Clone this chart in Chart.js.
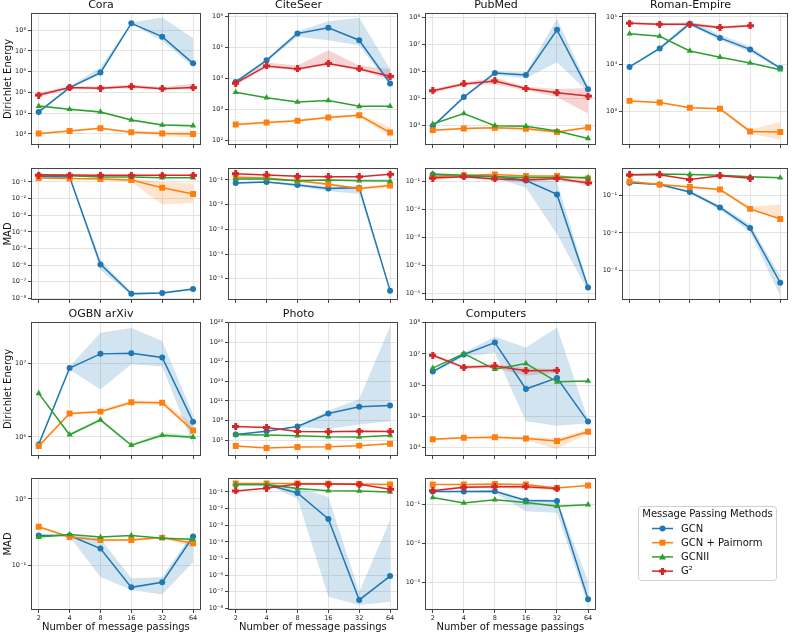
<!DOCTYPE html>
<html lang="en">
  <head>
    <meta charset="UTF-8" />
    <meta name="viewport" content="width=device-width, initial-scale=1.0" />
    <script src="https://cdn.jsdelivr.net/npm/chart.js@4.4.0/dist/chart.umd.min.js"></script>
    <title>Dirichlet Energy and MAD</title>
    <style>
      body {
        margin: 0;
        padding: 0;
        background: #fff;
      }

      .stage {
        position: relative;
        width: 793px;
        height: 632px;
        overflow: hidden;
      }

      .stage canvas {
        position: absolute;
      }
    </style>
  </head>
  <body>
    <div class="stage" id="stage"></div>
    <script>
      const steps = ['2', '4', '8', '16', '32', '64']
      const methods = ['GCN', 'GCN + Pairnorm', 'GCNII', 'G²']
      const colors = ['#1f77b4', '#ff7f0e', '#2ca02c', '#d62728']
      const shades = ['rgba(31,119,180,0.2)', 'rgba(255,127,14,0.2)', 'rgba(44,160,44,0.2)', 'rgba(214,39,40,0.2)']

      // each panel: [GCN, GCN + Pairnorm, GCNII, G²], lo/hi = shaded band (null = none)
      const coraDE = [
        [1.15e4, 1.7e5, 9e5, 2.1e8, 4.8e7, 2.5e6],
        [1.05e3, 1.4e3, 1.9e3, 1.2e3, 1.05e3, 1.0e3],
        [2.2e4, 1.55e4, 1.15e4, 4.7e3, 2.7e3, 2.5e3],
        [7.5e4, 1.7e5, 1.6e5, 1.9e5, 1.5e5, 1.7e5],
      ]
      const coraDELo = [
        [1.0e4, 1.5e5, 7e5, 2.0e8, 3e7, 1.7e6],
        [950, 1.3e3, 1.7e3, 1.1e3, 800, 700],
        [2.0e4, 1.4e4, 1.05e4, 4.2e3, 2.4e3, 2.3e3],
        [6e4, 1.4e5, 1.4e5, 1.6e5, 1.3e5, 1.4e5],
      ]
      const coraDEHi = [
        [1.3e4, 2.0e5, 1.6e6, 2.3e8, 4e8, 4e7],
        [1.1e3, 1.5e3, 2.1e3, 1.4e3, 1.3e3, 1.3e3],
        [2.4e4, 1.7e4, 1.3e4, 5.2e3, 3.0e3, 2.8e3],
        [1e5, 2e5, 1.9e5, 2.4e5, 1.8e5, 2.6e5],
      ]
      const coraDETicks = [3, 4, 5, 6, 7, 8]

      const citeseerDE = [
        [7.6e3, 3.8e4, 2.8e5, 4.3e5, 1.7e5, 6.8e3],
        [320, 370, 420, 540, 630, 175],
        [3.5e3, 2.35e3, 1.7e3, 1.9e3, 1.23e3, 1.25e3],
        [6.9e3, 2.5e4, 2.0e4, 3.0e4, 2.0e4, 1.15e4],
      ]
      const citeseerDELo = [
        [7e3, 3.4e4, 2.2e5, 1.7e5, 1.15e5, 6e3],
        [290, 340, 380, 490, 570, 130],
        null,
        [6e3, 2.2e4, 1.8e4, 2.6e4, 1.8e4, 9e3],
      ]
      const citeseerDEHi = [
        [8.5e3, 4.3e4, 3.3e5, 7e5, 9e5, 2e4],
        [350, 400, 460, 600, 700, 260],
        null,
        [8e3, 3.2e4, 2.6e4, 8e4, 2.6e4, 2.0e4],
      ]
      const citeseerDETicks = [2, 3, 4, 5, 6]

      const pubmedDE = [
        [9e3, 1.1e5, 8.7e5, 7.3e5, 3.5e7, 2.15e5],
        [6.5e3, 7.5e3, 8e3, 7.3e3, 5.5e3, 8.2e3],
        [1.1e4, 2.7e4, 9.5e3, 9.1e3, 6e3, 3.2e3],
        [1.9e5, 3.4e5, 4.4e5, 2.3e5, 1.6e5, 1.2e5],
      ]
      const pubmedDELo = [
        [8.5e3, 1.0e5, 7.5e5, 5.5e5, 2.2e6, 1.7e5],
        [6e3, 6.8e3, 7.2e3, 6.6e3, 5e3, 7.6e3],
        null,
        [1.6e5, 2.9e5, 3.3e5, 2.0e5, 1.1e5, 2.7e4],
      ]
      const pubmedDEHi = [
        [9.5e3, 1.2e5, 1.0e6, 9e5, 9e7, 2.8e5],
        [7e3, 8.2e3, 8.8e3, 8e3, 6e3, 8.8e3],
        null,
        [2.2e5, 3.9e5, 5.8e5, 2.7e5, 2.2e5, 2.4e5],
      ]
      const pubmedDETicks = [4, 5, 6, 7, 8]

      const romanDE = [
        [8.7e3, 2.15e4, 7.2e4, 3.6e4, 2.05e4, 8.2e3],
        [1.65e3, 1.53e3, 1.18e3, 1.12e3, 370, 360],
        [4.4e4, 3.9e4, 1.9e4, 1.4e4, 1.05e4, 7.6e3],
        [7.4e4, 7.0e4, 7.0e4, 6.0e4, 6.5e4, null],
      ]
      const romanDELo = [
        [8.3e3, 2.0e4, 6.5e4, 3.2e4, 1.8e4, 7.8e3],
        [1.6e3, 1.48e3, 1.14e3, 1.08e3, 330, 245],
        null,
        [7e4, 6.6e4, 6.4e4, 5.6e4, 6.1e4, null],
      ]
      const romanDEHi = [
        [9.1e3, 2.3e4, 8.5e4, 4.2e4, 2.4e4, 8.6e3],
        [1.7e3, 1.58e3, 1.22e3, 1.16e3, 400, 590],
        null,
        [7.8e4, 7.4e4, 7.6e4, 6.4e4, 6.9e4, null],
      ]
      const romanDETicks = [3, 4, 5]

      const coraMAD = [
        [0.22, 0.2, 1.1e-6, 1.9e-8, 2.1e-8, 3.6e-8],
        [0.175, 0.16, 0.15, 0.13, 0.045, 0.019],
        [0.28, 0.24, 0.2, 0.2, 0.18, 0.18],
        [0.26, 0.26, 0.25, 0.25, 0.25, 0.25],
      ]
      const coraMADLo = [
        [0.18, 0.17, 5e-7, 1.6e-8, 1.8e-8, 3.0e-8],
        [0.16, 0.15, 0.13, 0.1, 4.4e-3, 5.5e-3],
        null,
        null,
      ]
      const coraMADHi = [
        [0.26, 0.23, 2e-6, 2.3e-8, 2.4e-8, 4.2e-8],
        [0.19, 0.18, 0.17, 0.16, 0.1, 0.08],
        null,
        null,
      ]
      const coraMADTicks = [-8, -7, -6, -5, -4, -3, -2, -1]

      const citeseerMAD = [
        [0.076, 0.083, 0.063, 0.045, 0.049, 3.3e-6],
        [0.13, 0.12, 0.094, 0.067, 0.045, 0.06],
        [0.11, 0.11, 0.094, 0.1, 0.094, 0.09],
        [0.18, 0.16, 0.14, 0.135, 0.135, 0.17],
      ]
      const citeseerMADLo = [
        [0.07, 0.077, 0.055, 0.035, 0.028, 2.8e-6],
        [0.12, 0.11, 0.085, 0.06, 0.04, 0.05],
        null,
        null,
      ]
      const citeseerMADHi = [
        [0.082, 0.09, 0.07, 0.055, 0.06, 3.8e-6],
        [0.14, 0.13, 0.1, 0.075, 0.05, 0.07],
        null,
        null,
      ]
      const citeseerMADTicks = [-5, -4, -3, -2, -1]

      const pubmedMAD = [
        [0.18, 0.16, 0.155, 0.11, 0.035, 1.6e-5],
        [0.15, 0.17, 0.18, 0.16, 0.16, 0.13],
        [0.19, 0.17, 0.15, 0.14, 0.14, 0.14],
        [0.135, 0.15, 0.125, 0.115, 0.13, 0.09],
      ]
      const pubmedMADLo = [
        [0.17, 0.15, 0.14, 0.06, 1.3e-3, 1.2e-5],
        null,
        null,
        [0.12, 0.14, 0.11, 0.1, 0.115, 0.075],
      ]
      const pubmedMADHi = [
        [0.19, 0.17, 0.17, 0.14, 0.1, 2.2e-5],
        null,
        null,
        [0.15, 0.16, 0.14, 0.13, 0.145, 0.11],
      ]
      const pubmedMADTicks = [-5, -4, -3, -2, -1]

      const romanMAD = [
        [0.22, 0.197, 0.125, 0.048, 0.0135, 4.6e-4],
        [0.24, 0.197, 0.17, 0.145, 0.044, 0.0235],
        [0.36, 0.38, 0.37, 0.35, 0.32, 0.3],
        [0.36, 0.36, 0.27, 0.34, 0.29, null],
      ]
      const romanMADLo = [
        [0.21, 0.19, 0.115, 0.042, 0.0105, 2e-4],
        [0.23, 0.19, 0.16, 0.135, 0.038, 0.024],
        null,
        null,
      ]
      const romanMADHi = [
        [0.23, 0.205, 0.135, 0.055, 0.017, 7e-4],
        [0.25, 0.205, 0.18, 0.155, 0.05, 0.058],
        null,
        null,
      ]
      const romanMADTicks = [-3, -2, -1]

      const arxivDE = [
        [7.9e5, 8.6e6, 1.34e7, 1.37e7, 1.2e7, 1.6e6],
        [7.5e5, 2.07e6, 2.2e6, 2.95e6, 2.9e6, 1.22e6],
        [3.9e6, 1.07e6, 1.7e6, 7.7e5, 1.05e6, 9.9e5],
        null,
      ]
      const arxivDELo = [
        [7.6e5, 8.2e6, 4.4e6, 9.7e6, 9e6, 7.9e5],
        [7.2e5, 2.0e6, 2.1e6, 2.8e6, 2.75e6, 1.1e6],
        [3.8e6, 1.03e6, 1.6e6, 7.4e5, 1.0e6, 9.4e5],
        null,
      ]
      const arxivDEHi = [
        [8.2e5, 9e6, 2.6e7, 3e7, 2e7, 2e6],
        [7.8e5, 2.15e6, 2.3e6, 3.1e6, 3.1e6, 1.5e6],
        [4e6, 1.1e6, 1.8e6, 8e5, 1.15e6, 1.05e6],
        null,
      ]
      const arxivDETicks = [6, 7]

      const photoDE = [
        [7e5, 2.3e6, 1.2e7, 1.2e9, 1.3e10, 2e10],
        [1.2e4, 6e3, 8.5e3, 9.5e3, 1.4e4, 2.8e4],
        [6.5e5, 5.8e5, 4.6e5, 3.2e5, 2.9e5, 5.1e5],
        [1.2e7, 8.5e6, 2.1e6, 1.9e6, 2.3e6, 2.1e6],
      ]
      const photoDELo = [
        [6.5e5, 2e6, 1e7, 5e6, 2.5e7, 8e7],
        null,
        null,
        null,
      ]
      const photoDEHi = [
        [7.5e5, 2.6e6, 1.5e7, 3e9, 2e11, 2.5e22],
        null,
        null,
        null,
      ]
      const photoDETicks = [5, 8, 11, 14, 17, 20, 23]

      const computersDE = [
        [2.7e6, 9.5e6, 2.3e7, 7.5e5, 1.7e6, 6.8e4],
        [1.85e4, 2.05e4, 2.15e4, 1.95e4, 1.63e4, 3.2e4],
        [3.5e6, 1.02e7, 3.2e6, 4.9e6, 1.27e6, 1.35e6],
        [9e6, 3.7e6, 4.1e6, 2.9e6, 2.95e6, null],
      ]
      const computersDELo = [
        [2.4e6, 8e6, 1.1e7, 7e4, 5e4, 6e4],
        [1.7e4, 1.9e4, 2e4, 1.7e4, 9e3, 2.8e4],
        null,
        [8e6, 3.3e6, 3.5e6, 2e6, 2.5e6, null],
      ]
      const computersDEHi = [
        [3e6, 1.1e7, 3.5e7, 1.6e7, 7e7, 8e4],
        [2e4, 2.2e4, 2.3e4, 2.2e4, 2e4, 3.8e4],
        null,
        [1e7, 4.2e6, 4.7e6, 3.5e6, 3.3e6, null],
      ]
      const computersDETicks = [4, 5, 6, 7, 8]

      const arxivMAD = [
        [0.28, 0.28, 0.178, 0.046, 0.055, 0.27],
        [0.38, 0.265, 0.24, 0.24, 0.26, 0.213],
        [0.265, 0.29, 0.265, 0.28, 0.255, 0.245],
        null,
      ]
      const arxivMADLo = [
        [0.27, 0.27, 0.066, 0.042, 0.036, 0.11],
        [0.37, 0.255, 0.23, 0.23, 0.25, 0.19],
        null,
        null,
      ]
      const arxivMADHi = [
        [0.29, 0.29, 0.25, 0.063, 0.066, 0.31],
        [0.39, 0.275, 0.25, 0.25, 0.27, 0.24],
        null,
        null,
      ]
      const arxivMADTicks = [-1, 0]

      const photoMAD = [
        [0.28, 0.28, 0.087, 2.4e-3, 3.2e-8, 8.7e-7],
        [0.32, 0.32, 0.32, 0.31, 0.3, 0.28],
        [0.28, 0.28, 0.16, 0.12, 0.115, 0.1],
        [0.115, 0.17, 0.3, 0.3, 0.29, 0.145],
      ]
      const photoMADLo = [
        [0.26, 0.26, 0.04, 5e-8, 1.6e-8, 2.5e-8],
        null,
        null,
        null,
      ]
      const photoMADHi = [
        [0.3, 0.3, 0.2, 0.05, 1e-7, 2e-3],
        null,
        null,
        null,
      ]
      const photoMADTicks = [-8, -7, -6, -5, -4, -3, -2, -1]

      const computersMAD = [
        [0.21, 0.21, 0.215, 0.124, 0.12, 3.7e-4],
        [0.32, 0.32, 0.33, 0.32, 0.26, 0.3],
        [0.148, 0.107, 0.13, 0.11, 0.089, 0.097],
        [0.22, 0.27, 0.28, 0.28, 0.25, null],
      ]
      const computersMADLo = [
        [0.2, 0.2, 0.19, 0.066, 0.06, 2.5e-4],
        null,
        null,
        [0.21, 0.25, 0.26, 0.25, 0.23, null],
      ]
      const computersMADHi = [
        [0.22, 0.22, 0.23, 0.135, 0.13, 1.1e-3],
        null,
        null,
        [0.23, 0.29, 0.3, 0.31, 0.27, null],
      ]
      const computersMADTicks = [-3, -2, -1]

      const panels = [
        { row: 0, col: 0, title: 'Cora', data: coraDE, lo: coraDELo, hi: coraDEHi, ticks: coraDETicks, range: [2.47, 8.82] },
        { row: 0, col: 1, title: 'CiteSeer', data: citeseerDE, lo: citeseerDELo, hi: citeseerDEHi, ticks: citeseerDETicks, range: [1.84, 6.11] },
        { row: 0, col: 2, title: 'PubMed', data: pubmedDE, lo: pubmedDELo, hi: pubmedDEHi, ticks: pubmedDETicks, range: [3.26, 8.17] },
        { row: 0, col: 3, title: 'Roman-Empire', data: romanDE, lo: romanDELo, hi: romanDEHi, ticks: romanDETicks, range: [2.28, 5.085] },
        { row: 1, col: 0, data: coraMAD, lo: coraMADLo, hi: coraMADHi, ticks: coraMADTicks, range: [-8.1, -0.16] },
        { row: 1, col: 1, data: citeseerMAD, lo: citeseerMADLo, hi: citeseerMADHi, ticks: citeseerMADTicks, range: [-5.86, -0.515] },
        { row: 1, col: 2, data: pubmedMAD, lo: pubmedMADLo, hi: pubmedMADHi, ticks: pubmedMADTicks, range: [-5.24, -0.51] },
        { row: 1, col: 3, data: romanMAD, lo: romanMADLo, hi: romanMADHi, ticks: romanMADTicks, range: [-3.8, -0.26] },
        { row: 2, col: 0, title: 'OGBN arXiv', data: arxivDE, lo: arxivDELo, hi: arxivDEHi, ticks: arxivDETicks, range: [5.74, 7.56] },
        { row: 2, col: 1, title: 'Photo', data: photoDE, lo: photoDELo, hi: photoDEHi, ticks: photoDETicks, range: [2.56, 23.1] },
        { row: 2, col: 2, title: 'Computers', data: computersDE, lo: computersDELo, hi: computersDEHi, ticks: computersDETicks, range: [3.73, 8.02] },
        { row: 3, col: 0, data: arxivMAD, lo: arxivMADLo, hi: arxivMADHi, ticks: arxivMADTicks, range: [-1.68, 0.317] },
        { row: 3, col: 1, data: photoMAD, lo: photoMADLo, hi: photoMADHi, ticks: photoMADTicks, range: [-8.1, -0.16] },
        { row: 3, col: 2, data: computersMAD, lo: computersMADLo, hi: computersMADHi, ticks: computersMADTicks, range: [-3.71, -0.33] },
      ]

      // plot boxes in page pixels
      const colL = [31, 228, 425, 622]
      const colR = [202, 399, 597, 789]
      const rowT = [13, 168, 322, 478]
      const rowB = [145, 300, 456, 610]

      Chart.defaults.font.family = '"DejaVu Sans", sans-serif'
      Chart.defaults.color = '#222'

      const plusMarker = (() => {
        const c = document.createElement('canvas')
        c.width = 7
        c.height = 7
        const g = c.getContext('2d')
        g.fillStyle = colors[3]
        g.fillRect(2, 0, 3, 7)
        g.fillRect(0, 2, 7, 3)
        return c
      })()
      const markers = ['circle', 'rect', 'triangle', plusMarker]
      const radii = [3, 4.2, 3.6, 4]

      const sup = { '-': '⁻', 0: '⁰', 1: '¹', 2: '²', 3: '³', 4: '⁴', 5: '⁵', 6: '⁶', 7: '⁷', 8: '⁸', 9: '⁹' }
      const pow10 = (v) => {
        const e = String(Math.round(Math.log10(v)))
        return '10' + e.split('').map((ch) => sup[ch]).join('')
      }

      const frame = {
        id: 'frame',
        afterDraw(chart) {
          const { ctx, chartArea: a } = chart
          ctx.save()
          ctx.strokeStyle = '#444'
          ctx.lineWidth = 1
          ctx.strokeRect(Math.round(a.left) + 0.5, Math.round(a.top) + 0.5, Math.round(a.right - a.left) - 1, Math.round(a.bottom - a.top) - 1)
          ctx.restore()
        },
      }

      const pts = (vals) => vals.map((v, i) => ({ x: i, y: v }))
      const stage = document.getElementById('stage')

      panels.forEach((p) => {
        const titled = p.row === 0 || p.row === 2
        const bottom = p.row === 3
        const left = p.col === 0 ? 31 : 30
        const top = titled ? 13 : 8
        const under = bottom ? 22 : 8
        const right = 3
        const plotW = colR[p.col] - colL[p.col]
        const plotH = rowB[p.row] - rowT[p.row]

        const canvas = document.createElement('canvas')
        canvas.width = left + plotW + right
        canvas.height = top + plotH + under
        canvas.style.left = colL[p.col] - left + 'px'
        canvas.style.top = rowT[p.row] - top + 'px'
        stage.appendChild(canvas)

        const datasets = []
        p.data.forEach((vals, k) => {
          if (!vals || !p.lo[k]) return
          datasets.push({ data: pts(p.lo[k]), borderWidth: 0, pointRadius: 0, fill: false, order: 10 })
          datasets.push({ data: pts(p.hi[k]), borderWidth: 0, pointRadius: 0, fill: '-1', backgroundColor: shades[k], order: 10 })
        })
        p.data.forEach((vals, k) => {
          if (!vals) return
          datasets.push({
            label: methods[k],
            data: pts(vals),
            borderColor: colors[k],
            backgroundColor: colors[k],
            borderWidth: 1.5,
            pointStyle: markers[k],
            pointRadius: radii[k],
            pointBorderWidth: 0,
            fill: false,
            order: 4 - k,
          })
        })

        new Chart(canvas, {
          type: 'line',
          data: { datasets },
          plugins: [frame],
          options: {
            responsive: false,
            animation: false,
            layout: { padding: { top: titled ? 0 : top, right: right, bottom: 0, left: 0 } },
            plugins: {
              legend: { display: false },
              tooltip: { enabled: false },
              title: {
                display: titled,
                text: p.title,
                color: '#111',
                font: { size: 11, weight: 'normal', lineHeight: 1 },
                padding: { top: 0, bottom: 2 },
              },
            },
            scales: {
              x: {
                type: 'linear',
                min: -0.25,
                max: 5.25,
                afterBuildTicks: (s) => {
                  s.ticks = steps.map((_, i) => ({ value: i }))
                },
                afterFit: (s) => {
                  s.height = under
                },
                ticks: {
                  display: bottom,
                  callback: (v) => steps[v],
                  font: { size: 6.5 },
                  padding: 1,
                  autoSkip: false,
                  maxRotation: 0,
                },
                grid: { color: '#e4e4e4', tickColor: '#444', tickLength: 3 },
                border: { display: false },
                title: {
                  display: bottom,
                  text: 'Number of message passings',
                  color: '#111',
                  font: { size: 10, lineHeight: 1 },
                  padding: 0,
                },
              },
              y: {
                type: 'logarithmic',
                min: 10 ** p.range[0],
                max: 10 ** p.range[1],
                afterBuildTicks: (s) => {
                  s.ticks = p.ticks.map((e) => ({ value: 10 ** e }))
                },
                afterFit: (s) => {
                  s.width = left
                },
                ticks: {
                  callback: pow10,
                  font: { size: 6.5 },
                  padding: 2,
                  autoSkip: false,
                },
                grid: { color: '#e4e4e4', tickColor: '#444', tickLength: 3 },
                border: { display: false },
                title: {
                  display: p.col === 0,
                  text: p.row % 2 ? 'MAD' : 'Dirichlet Energy',
                  color: '#111',
                  font: { size: 10 },
                  padding: { top: 2, bottom: 0 },
                },
              },
            },
          },
        })
      })

      // legend panel
      const drawMarker = (ctx, k, x, y) => {
        ctx.fillStyle = colors[k]
        ctx.beginPath()
        if (k === 0) {
          ctx.arc(x, y, 3, 0, Math.PI * 2)
        } else if (k === 1) {
          ctx.rect(x - 3, y - 3, 6, 6)
        } else if (k === 2) {
          ctx.moveTo(x, y - 3.5)
          ctx.lineTo(x + 3.5, y + 2.5)
          ctx.lineTo(x - 3.5, y + 2.5)
          ctx.closePath()
        } else {
          ctx.drawImage(plusMarker, x - 3.5, y - 3.5)
          return
        }
        ctx.fill()
      }

      const legendBox = {
        id: 'legendBox',
        afterDraw(chart) {
          const ctx = chart.ctx
          ctx.save()
          ctx.beginPath()
          ctx.roundRect(8.5, 6.5, 138, 74, 3)
          ctx.fillStyle = '#fff'
          ctx.fill()
          ctx.strokeStyle = '#d0d0d0'
          ctx.lineWidth = 1
          ctx.stroke()
          ctx.font = '10px "DejaVu Sans"'
          ctx.fillStyle = '#111'
          ctx.textAlign = 'center'
          ctx.textBaseline = 'middle'
          ctx.fillText('Message Passing Methods', 77.5, 14.5)
          ctx.textAlign = 'left'
          chart.data.datasets.forEach((d, k) => {
            const y = 28.5 + k * 14.2
            ctx.strokeStyle = colors[k]
            ctx.lineWidth = 1.5
            ctx.beginPath()
            ctx.moveTo(22, y)
            ctx.lineTo(43, y)
            ctx.stroke()
            drawMarker(ctx, k, 32.5, y)
            ctx.fillStyle = '#111'
            ctx.fillText(d.label, 51, y + 0.5)
          })
          ctx.restore()
        },
      }

      const legendCanvas = document.createElement('canvas')
      legendCanvas.width = 156
      legendCanvas.height = 90
      legendCanvas.style.left = '630px'
      legendCanvas.style.top = '500px'
      stage.appendChild(legendCanvas)

      new Chart(legendCanvas, {
        type: 'line',
        data: { datasets: methods.map((m, k) => ({ label: m, data: [], borderColor: colors[k] })) },
        plugins: [legendBox],
        options: {
          responsive: false,
          animation: false,
          plugins: { legend: { display: false }, tooltip: { enabled: false } },
          scales: { x: { display: false }, y: { display: false } },
        },
      })
    </script>
  </body>
</html>
